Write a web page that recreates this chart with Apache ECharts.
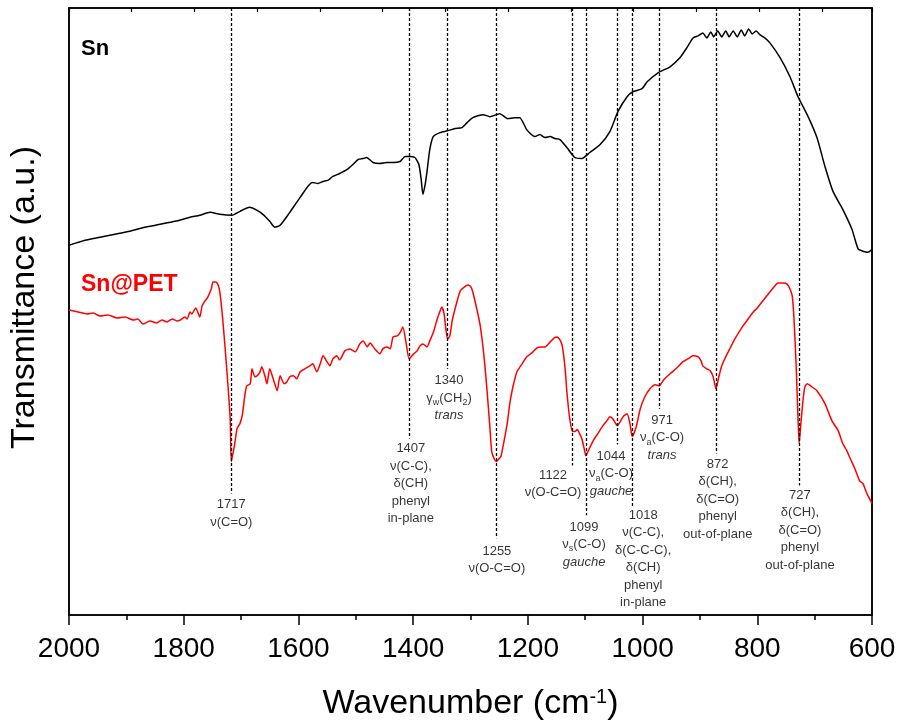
<!DOCTYPE html>
<html><head><meta charset="utf-8">
<script src="https://cdn.jsdelivr.net/npm/echarts@6/dist/echarts.min.js"></script>
<style>html,body{margin:0;padding:0;background:#fff}#c{width:901px;height:726px}</style>
</head><body><div id="c"></div>
<script>
// ---- Data ----
const wnSn = [2000,1972,1946,1920,1894,1868,1841,1815,1789,1772,1754,1737,1716,1702,1685,1672,1662,1650,1641,1632,1615,1597,1576,1566,1557,1549,1540,1528,1515,1505,1496,1487,1481,1470,1458,1446,1435,1423,1414,1406,1397,1390,1386,1383,1379,1376,1371,1365,1353,1339,1327,1315,1306,1296,1278,1266,1249,1235,1224,1214,1202,1188,1179,1170,1161,1153,1144,1132,1118,1106,1092,1074,1057,1043,1027,1017,1001,992,973,952,935,923,912,903,895,888,881,876,869,862,855,849,842,835,828,822,815,809,802,795,787,778,760,743,729,713,696,682,668,651,635,624,616,607,600];
const tSn = [371,376,379,382,385,389,392,395,399,401,404,402,401,405,409,406,402,395,389,391,404,419,434,433,435,436,440,443,447,452,457,458,459,454,453,454,454,455,460,460,459,452,437,422,432,444,467,480,484,486,488,489,494,499,502,500,503,498,499,499,487,480,482,479,480,478,477,469,459,458,464,472,485,505,520,525,528,535,544,550,559,569,579,581,584,579,585,580,586,580,586,580,586,580,587,581,588,583,586,582,579,574,559,540,520,502,479,450,425,407,387,367,365,364,367];
const wnPET = [2000,1984,1969,1958,1946,1932,1916,1902,1888,1880,1871,1859,1847,1838,1829,1820,1812,1806,1798,1794,1789,1786,1779,1772,1768,1763,1758,1752,1749,1744,1740,1737,1732,1725,1719,1717,1711,1707,1702,1698,1693,1690,1684,1681,1676,1672,1667,1664,1658,1655,1650,1644,1637,1632,1625,1620,1615,1609,1603,1597,1589,1580,1575,1568,1562,1557,1550,1545,1540,1533,1528,1519,1510,1501,1493,1487,1480,1475,1467,1458,1453,1446,1440,1435,1428,1423,1418,1412,1407,1399,1393,1388,1383,1376,1371,1364,1358,1353,1350,1346,1343,1340,1336,1332,1327,1318,1311,1304,1299,1296,1289,1283,1276,1271,1266,1263,1258,1255,1250,1247,1243,1236,1231,1226,1219,1210,1202,1193,1184,1177,1170,1161,1154,1149,1144,1140,1135,1132,1127,1122,1118,1114,1109,1106,1101,1099,1092,1086,1078,1069,1062,1057,1052,1044,1039,1034,1027,1022,1018,1011,1004,996,987,978,971,963,952,940,930,921,912,903,898,895,888,882,877,872,867,862,855,848,839,825,816,807,800,792,785,778,771,764,755,748,743,739,736,732,729,727,724,720,717,713,705,696,682,670,659,651,644,638,630,621,616,609,600];
const tPET = [306,304,302,303,300,301,298,299,296,297,292,295,293,296,294,297,295,296,299,297,304,302,308,299,310,315,319,327,334,334,331,324,297,247,197,154,172,187,192,200,222,230,232,247,239,240,244,249,239,232,247,237,225,240,232,234,239,240,237,244,247,250,252,244,252,260,254,250,257,260,256,265,267,264,272,275,269,273,267,262,267,269,267,279,280,283,289,272,257,262,265,270,272,269,275,285,297,305,309,302,287,277,280,295,307,325,329,331,329,324,307,290,257,224,187,164,156,154,157,159,170,192,214,229,244,252,259,263,268,269,269,274,278,279,276,270,247,224,197,184,184,186,181,177,165,160,168,175,182,190,195,199,197,190,194,199,202,192,179,189,207,219,227,231,230,236,242,248,254,257,260,259,255,250,247,245,239,227,239,250,259,267,277,290,297,304,308,314,319,324,329,333,333,332,327,320,297,247,197,172,192,217,229,232,229,225,212,195,185,172,165,157,147,134,132,122,112];

// tick labels of the wavenumber axis
const xTickLabels = [2000,1800,1600,1400,1200,1000,800,600];

// band assignments
const peakWn     = [1717,1407,1340,1255,1122,1099,1044,1018,971,872,727];
const peakLineEnd= [122,177,247,77,150,100,171,108,207,162,130];
const labelWn    = [1717,1404,1337.5,1254,1156,1102,1055,999,966,869,725.6];
const labelTop   = [119.5,175.5,244,73,149,97,168,109,204,160,129];
const labelLines = [
  ['1717','ν(C=O)'],
  ['1407','ν(C-C),','δ(CH)','phenyl','in-plane'],
  ['1340','γ{s|w}(CH{s|2})','{i|trans}'],
  ['1255','ν(O-C=O)'],
  ['1122','ν(O-C=O)'],
  ['1099','ν{s|s}(C-O)','{i|gauche}'],
  ['1044','ν{s|a}(C-O)','{i|gauche}'],
  ['1018','ν(C-C),','δ(C-C-C),','δ(CH)','phenyl','in-plane'],
  ['971','ν{s|a}(C-O)','{i|trans}'],
  ['872','δ(CH),','δ(C=O)','phenyl','out-of-plane'],
  ['727','δ(CH),','δ(C=O)','phenyl','out-of-plane']
];
const seriesNames = ['Sn','Sn@PET'];

// ---- Chart ----
const FONT = "'Liberation Sans', Arial, sans-serif";
const chart = echarts.init(document.getElementById('c'), null, {renderer:'canvas'});
const zip = (a,b)=>a.map((v,i)=>[v,b[i]]);

const option = {
  animation:false,
  backgroundColor:'#fff',
  grid:{left:69,right:29,top:8,bottom:109,show:true,borderColor:'#000',borderWidth:1.5},
  xAxis:[{
    type:'value',min:600,max:2000,interval:200,inverse:true,position:'bottom',
    axisLine:{show:true,onZero:false,lineStyle:{color:'#000',width:1.5}},
    axisTick:{show:true,inside:false,length:10,lineStyle:{color:'#000',width:1.5}},
    minorTick:{show:true,splitNumber:2,length:5,lineStyle:{color:'#000',width:1.5}},
    splitLine:{show:false},
    axisLabel:{show:true,margin:20,fontSize:28,color:'#000',fontFamily:FONT,
      formatter:v=>xTickLabels.includes(v)?String(v):''},
    name:'Wavenumber (cm{sup|-1})',nameLocation:'middle',nameGap:72,
    nameTextStyle:{fontSize:34,color:'#000',fontFamily:FONT,
      rich:{sup:{fontSize:20,verticalAlign:'top',lineHeight:34,fontFamily:FONT,color:'#000'}}}
  },{
    type:'value',min:0,max:12.8,interval:1,position:'top',
    axisLine:{show:true,onZero:false,lineStyle:{color:'#000',width:1.5}},
    axisTick:{show:true,inside:true,length:4,lineStyle:{color:'#000',width:1.2}},
    axisLabel:{show:false},splitLine:{show:false}
  }],
  yAxis:[{
    type:'value',min:0,max:609,
    axisLine:{show:true,onZero:false,lineStyle:{color:'#000',width:1.5}},
    axisTick:{show:false},axisLabel:{show:false},splitLine:{show:false},
    name:'Transmittance (a.u.)',nameLocation:'middle',nameGap:27,
    nameTextStyle:{fontSize:34,color:'#000',fontFamily:FONT,padding:[0,0,0,28]}
  },{
    type:'value',min:0,max:1,position:'right',
    axisLine:{show:true,onZero:false,lineStyle:{color:'#000',width:1.5}},
    axisTick:{show:false},axisLabel:{show:false},splitLine:{show:false}
  }],
  graphic:[
    {type:'text',left:81,top:38,style:{text:seriesNames[0],font:"bold 22px "+FONT,fill:'#000'}},
    {type:'text',left:81,top:273,style:{text:seriesNames[1],font:"bold 23px "+FONT,fill:'#ff0000'}}
  ],
  series:[
    {name:seriesNames[0],type:'line',data:zip(wnSn,tSn),showSymbol:false,smooth:0.2,
     lineStyle:{color:'#000',width:1.5},z:3},
    {name:seriesNames[1],type:'line',data:zip(wnPET,tPET),showSymbol:false,smooth:0.2,
     lineStyle:{color:'#ff0000',width:1.5},z:3,
     markLine:{silent:true,symbol:['none','none'],label:{show:false},
       lineStyle:{color:'#000',type:[3,2],width:1.3},
       data:peakWn.map((w,i)=>[{coord:[w,609]},{coord:[w,peakLineEnd[i]]}])}},
    {name:'labels',type:'scatter',symbolSize:0,silent:true,z:5,
     data:labelWn.map((w,i)=>({value:[w,labelTop[i]],label:{formatter:labelLines[i].join('\n')}})),
     label:{show:true,position:'bottom',distance:0,align:'center',fontSize:13,lineHeight:17.5,
       color:'#000',fontFamily:FONT,
       rich:{
         s:{fontSize:9,lineHeight:9,verticalAlign:'bottom',color:'#000',fontFamily:FONT},
         i:{fontSize:13,lineHeight:17.5,fontStyle:'italic',color:'#000',fontFamily:FONT}
       }}}
  ]
};
chart.setOption(option);
</script>
</body></html>
